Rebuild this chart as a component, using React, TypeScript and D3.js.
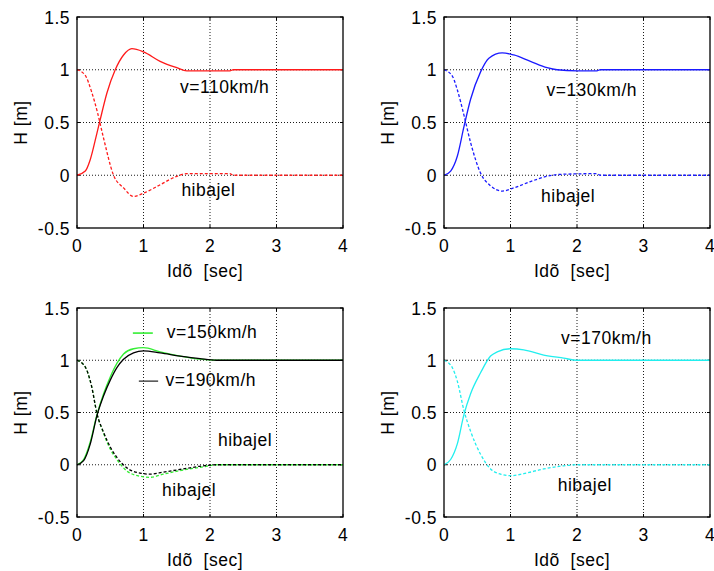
import React from "react";
import * as d3 from "d3";

// Time axes (s) and heights (m) for each speed: step response and error ("hibajel")
const t110 = [0, 0.125, 0.2, 0.3, 0.35, 0.45, 0.575, 0.7, 0.825, 1.0, 1.25, 1.5, 1.65, 2.3, 2.35, 4];
const h110 = [0, 0.04, 0.15, 0.4, 0.53, 0.78, 1.0, 1.14, 1.2, 1.17, 1.08, 1.02, 0.99, 0.99, 1.0, 1.0];
const te110 = [0, 0.12, 0.22, 0.31, 0.4, 0.55, 0.7, 0.85, 1.0, 1.25, 1.5, 1.65, 2.3, 2.35, 4];
const e110 = [1, 0.95, 0.79, 0.59, 0.35, 0, -0.12, -0.2, -0.17, -0.09, -0.01, 0.015, 0.015, 0, 0];

const t130 = [0, 0.1, 0.2, 0.3, 0.4, 0.55, 0.675, 0.875, 1.05, 1.3, 1.55, 1.7, 2.0, 2.3, 2.35, 4];
const h130 = [0, 0.04, 0.18, 0.46, 0.72, 0.98, 1.11, 1.16, 1.14, 1.08, 1.02, 1.0, 0.99, 0.99, 1.0, 1.0];
const te130 = [0, 0.125, 0.2, 0.3, 0.4, 0.55, 0.7, 0.875, 1.05, 1.3, 1.55, 1.8, 2.3, 2.35, 4];
const e130 = [1, 0.94, 0.81, 0.57, 0.31, 0.02, -0.1, -0.15, -0.12, -0.06, -0.01, 0.01, 0.015, 0, 0];

const t150 = [0, 0.1, 0.2, 0.3, 0.4, 0.5, 0.6, 0.7, 0.85, 1.0, 1.25, 1.55, 1.85, 2.1, 4];
const h150 = [0, 0.05, 0.22, 0.48, 0.68, 0.84, 0.97, 1.06, 1.11, 1.12, 1.08, 1.04, 1.01, 1.0, 1.0];
const h190 = [0, 0.04, 0.2, 0.47, 0.66, 0.81, 0.93, 1.01, 1.07, 1.09, 1.07, 1.04, 1.015, 1.0, 1.0];
const te150 = [0, 0.12, 0.22, 0.3, 0.4, 0.5, 0.6, 0.75, 0.95, 1.1, 1.3, 1.6, 1.9, 2.1, 4];
const e150 = [1, 0.94, 0.75, 0.49, 0.3, 0.15, 0.05, -0.06, -0.11, -0.12, -0.09, -0.05, -0.02, 0, 0];
const e190 = [1, 0.94, 0.75, 0.49, 0.31, 0.17, 0.07, -0.03, -0.08, -0.09, -0.07, -0.04, -0.01, 0, 0];

const t170 = [0, 0.1, 0.2, 0.3, 0.4, 0.55, 0.7, 0.8, 1.0, 1.2, 1.5, 1.8, 2.0, 4];
const h170 = [0, 0.05, 0.2, 0.48, 0.68, 0.88, 1.04, 1.08, 1.11, 1.1, 1.05, 1.02, 1.0, 1.0];
const te170 = [0, 0.125, 0.2, 0.3, 0.4, 0.55, 0.7, 0.85, 1.0, 1.2, 1.5, 1.8, 2.0, 4];
const e170 = [1, 0.93, 0.8, 0.52, 0.32, 0.1, -0.04, -0.09, -0.105, -0.085, -0.04, -0.01, 0, 0];

const xTicks = [0, 1, 2, 3, 4];
const yTicks = [-0.5, 0, 0.5, 1, 1.5];
const xLabel = "Idõ  [sec]";
const yLabel = "H [m]";

type Series = { t: number[]; v: number[]; color: string; dashed: boolean };
type Note = { text: string; x: number; y: number };
type LegendItem = { x0: number; x1: number; y: number; color: string };
type Panel = {
  left: number;
  top: number;
  width: number;
  height: number;
  series: Series[];
  notes: Note[];
  legend: LegendItem[];
};

const RED = "#ff1a1a";
const BLUE = "#1a1aff";
const GREEN = "#33ee33";
const BLACK = "#000000";
const CYAN = "#22eeee";

const panels: Panel[] = [
  {
    left: 77, top: 17, width: 266, height: 211,
    series: [
      { t: t110, v: h110, color: RED, dashed: false },
      { t: te110, v: e110, color: RED, dashed: true },
    ],
    notes: [
      { text: "v=110km/h", x: 1.55, y: 0.78 },
      { text: "hibajel", x: 1.57, y: -0.2 },
    ],
    legend: [],
  },
  {
    left: 444, top: 17, width: 266, height: 211,
    series: [
      { t: t130, v: h130, color: BLUE, dashed: false },
      { t: te130, v: e130, color: BLUE, dashed: true },
    ],
    notes: [
      { text: "v=130km/h", x: 1.54, y: 0.75 },
      { text: "hibajel", x: 1.46, y: -0.25 },
    ],
    legend: [],
  },
  {
    left: 77, top: 308, width: 266, height: 209,
    series: [
      { t: t150, v: h150, color: GREEN, dashed: false },
      { t: te150, v: e150, color: GREEN, dashed: true },
      { t: t150, v: h190, color: BLACK, dashed: false },
      { t: te150, v: e190, color: BLACK, dashed: true },
    ],
    notes: [
      { text: "v=150km/h", x: 1.35, y: 1.215 },
      { text: "v=190km/h", x: 1.33, y: 0.75 },
      { text: "hibajel", x: 2.12, y: 0.175 },
      { text: "hibajel", x: 1.28, y: -0.3 },
    ],
    legend: [
      { x0: 0.84, x1: 1.14, y: 1.26, color: GREEN },
      { x0: 0.93, x1: 1.22, y: 0.8, color: "#555555" },
    ],
  },
  {
    left: 444, top: 308, width: 266, height: 209,
    series: [
      { t: t170, v: h170, color: CYAN, dashed: false },
      { t: te170, v: e170, color: CYAN, dashed: true },
    ],
    notes: [
      { text: "v=170km/h", x: 1.76, y: 1.16 },
      { text: "hibajel", x: 1.71, y: -0.255 },
    ],
    legend: [],
  },
];

const FONT = "'Liberation Sans', Arial, Helvetica, sans-serif";
const FS = 17.5;
const LS = 0.5;

// Plain hyphen for negatives, as the original plotting tool prints them
const fmt = (v: number) => String(v);

function PanelView({ p }: { p: Panel }) {
  const x = d3.scaleLinear().domain([0, 4]).range([p.left, p.left + p.width]);
  const y = d3.scaleLinear().domain([-0.5, 1.5]).range([p.top + p.height, p.top]);
  const bottom = p.top + p.height;
  const right = p.left + p.width;

  const line = (s: Series) =>
    d3
      .line<number>()
      .x((_, i) => x(s.t[i]))
      .y((d) => y(d))
      .curve(d3.curveMonotoneX)(s.v) || "";

  return (
    <g>
      {/* dotted grid */}
      {xTicks
        .filter((t) => t > 0 && t < 4)
        .map((t) => (
          <line key={"gx" + t} x1={x(t)} x2={x(t)} y1={p.top} y2={bottom}
            stroke="#000" strokeWidth={0.9} strokeDasharray="1,2" />
        ))}
      {yTicks
        .filter((t) => t > -0.5 && t < 1.5)
        .map((t) => (
          <line key={"gy" + t} x1={p.left} x2={right} y1={y(t)} y2={y(t)}
            stroke="#000" strokeWidth={0.9} strokeDasharray="1,2" />
        ))}

      {/* inner tick marks */}
      {xTicks.map((t) => (
        <g key={"tx" + t}>
          <line x1={x(t)} x2={x(t)} y1={bottom} y2={bottom - 3} stroke="#000" />
          <line x1={x(t)} x2={x(t)} y1={p.top} y2={p.top + 3} stroke="#000" />
        </g>
      ))}
      {yTicks.map((t) => (
        <g key={"ty" + t}>
          <line x1={p.left} x2={p.left + 3} y1={y(t)} y2={y(t)} stroke="#000" />
          <line x1={right} x2={right - 3} y1={y(t)} y2={y(t)} stroke="#000" />
        </g>
      ))}

      {/* curves */}
      {p.series.map((s, i) => (
        <path key={"s" + i} d={line(s)} fill="none" stroke={s.color}
          strokeWidth={1.3} strokeDasharray={s.dashed ? "3,2" : undefined} />
      ))}

      {/* legend samples */}
      {p.legend.map((l, i) => (
        <line key={"l" + i} x1={x(l.x0)} x2={x(l.x1)} y1={y(l.y)} y2={y(l.y)}
          stroke={l.color} strokeWidth={1.6} />
      ))}

      {/* frame */}
      <rect x={p.left} y={p.top} width={p.width} height={p.height}
        fill="none" stroke="#000" strokeWidth={1.3} />

      {/* tick labels */}
      {xTicks.map((t) => (
        <text key={"lx" + t} x={x(t)} y={bottom + 24} textAnchor="middle"
          fontFamily={FONT} fontSize={FS} letterSpacing={LS}>
          {fmt(t)}
        </text>
      ))}
      {yTicks.map((t) => (
        <text key={"ly" + t} x={p.left - 7} y={y(t) + 6.5} textAnchor="end"
          fontFamily={FONT} fontSize={FS} letterSpacing={LS}>
          {fmt(t)}
        </text>
      ))}

      {/* annotations */}
      {p.notes.map((n, i) => (
        <text key={"n" + i} x={x(n.x)} y={y(n.y)} fontFamily={FONT}
          fontSize={FS} letterSpacing={LS}>
          {n.text}
        </text>
      ))}

      {/* axis titles */}
      <text x={p.left + 90} y={bottom + 49} fontFamily={FONT} fontSize={FS}
        letterSpacing={LS} style={{ whiteSpace: "pre" }}>
        {xLabel}
      </text>
      <text transform={`translate(${p.left - 50},${p.top + p.height / 2}) rotate(-90)`}
        textAnchor="middle" fontFamily={FONT} fontSize={FS} letterSpacing={LS}>
        {yLabel}
      </text>
    </g>
  );
}

export default function App() {
  return (
    <svg width={714} height={571} viewBox="0 0 714 571"
      style={{ position: "absolute", left: 0, top: 0, background: "#fff" }}>
      <rect width={714} height={571} fill="#fff" />
      {panels.map((p, i) => (
        <PanelView key={i} p={p} />
      ))}
    </svg>
  );
}
